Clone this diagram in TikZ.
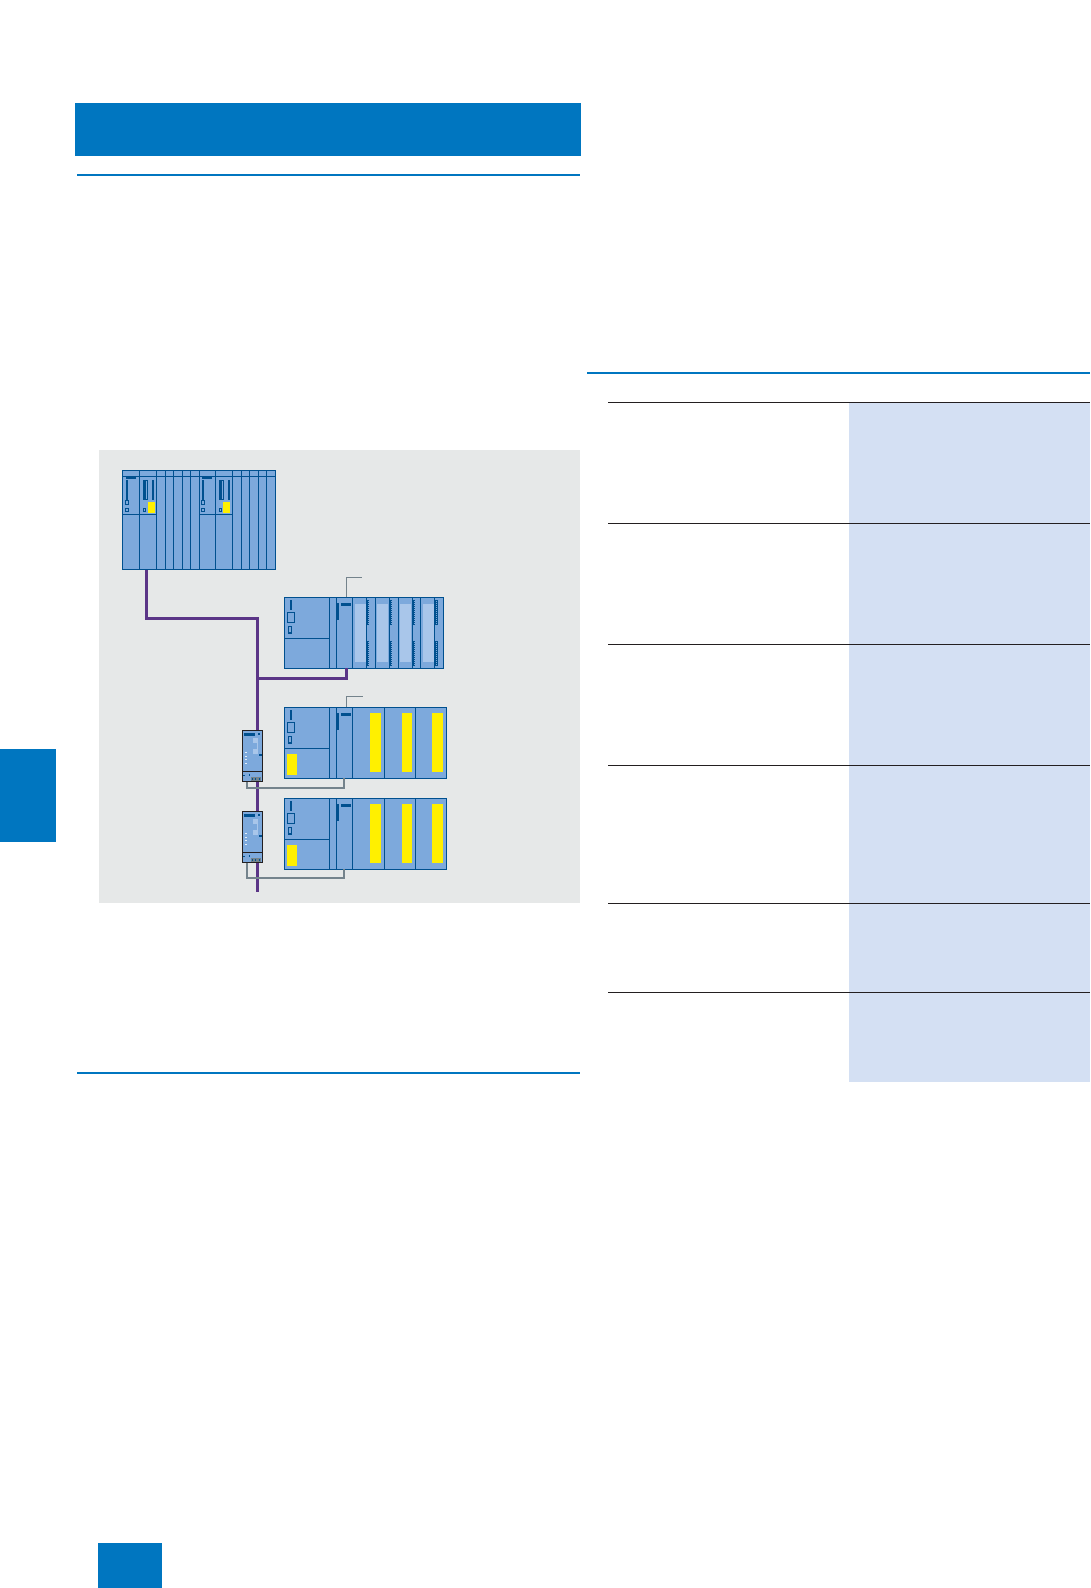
\documentclass[tikz,border=0pt]{standalone}
\definecolor{brandblue}{HTML}{0076C0}
\definecolor{modfill}{HTML}{7DA9DC}
\definecolor{modedge}{HTML}{00508F}
\definecolor{modlight}{HTML}{A9C6EA}
\definecolor{sigyellow}{HTML}{FFF000}
\definecolor{panelgray}{HTML}{E6E8E8}
\definecolor{tablefill}{HTML}{D4E0F3}
\definecolor{busviolet}{HTML}{5B3587}
\definecolor{inkline}{HTML}{231F20}
\definecolor{wiregray}{HTML}{74838C}
\tikzset{
  flat/.style={fill=#1,draw=none},
  bluerule/.style={draw=brandblue,line width=2pt},
  tablerule/.style={draw=inkline,line width=1pt},
  frame/.style={draw=modedge,fill=modfill,line width=1.3pt,rectangle,inner sep=0pt,outer sep=0pt},
  swframe/.style={draw=inkline,fill=modfill,line width=1.2pt,rectangle,inner sep=0pt,outer sep=0pt},
  divider/.style={draw=modedge,line width=1.2pt},
  hollow/.style={draw=modedge,line width=1.1pt,fill=none},
  dark/.style={fill=modedge,draw=none},
  yellowbar/.style={fill=sigyellow,draw=none},
  lightbar/.style={fill=modlight,draw=none},
  bus/.style={draw=busviolet,line width=3pt},
  wire/.style={draw=wiregray,line width=2pt},
  callout/.style={draw=wiregray,line width=1pt},
}
% CPU pair of the redundant rack, x offset given by scope
\newcommand{\cpupair}[1]{%
  \fill[dark] (126,476.7) rectangle (136,479);
  \fill[dark] (126,480) rectangle (128,500);
  \draw[hollow] (125.5,500.5) rectangle (128.5,504.5);
  \draw[hollow] (125.5,508.5) rectangle (128.5,511.5);
  \fill[dark] (143,480) rectangle (146.3,500);
  \draw[hollow] (143.5,480.5) rectangle (147.2,499.5);
  \fill[dark] (152,480) rectangle (154,500);
  \draw[hollow] (143.5,508.5) rectangle (145.8,511.5);
  \fill[yellowbar] (#1,502) rectangle (#1+7,513);
}
% Left part shared by the station modules
\newcommand{\stationleft}{%
  \fill[dark] (290,0) rectangle (292,10);
  \draw[hollow] (287.8,12.5) rectangle (294.5,22.5);
  \draw[hollow] (288.5,26.8) rectangle (291.5,33);
  \fill[dark] (336.6,3) rectangle (339,20);
  \fill[dark] (341,3) rectangle (351,6);
}
% Dotted connector strip
\newcommand{\dotstrip}[3]{%
  \fill[dark] (#1,#2) rectangle (#1+2.3,#3);
  \pgfmathsetmacro{\secondy}{#2+2}
  \foreach \yy in {#2,\secondy,...,#3}{\fill[modfill] (#1+0.9,\yy+0.7) rectangle (#1+1.5,\yy+1.2);}
}
% Interior of the network switch
\newcommand{\switchparts}{%
  \draw[inkline,line width=1.2pt] (242.3,771.3) -- (262.7,771.3);
  \fill[dark] (244,732.7) rectangle (255,736);
  \fill[dark] (258,733) rectangle (260,735);
  \fill[modlight] (253,738) rectangle (257.7,742.7);
  \fill[modlight] (253,749.3) rectangle (257.7,754);
  \draw[modlight,line width=.8pt] (257.3,740) -- (257.3,752);
  \foreach \yy in {752.3,756,759.7,763.3}{\fill[white!70!modlight] (244.7,\yy-.5) rectangle (247,\yy+.5);}
  \fill[dark] (259.3,754) rectangle (261.7,756);
  \fill[dark] (243,774.6) rectangle (244.8,776);
  \fill[dark] (248.6,774.4) rectangle (250.4,776);
  \fill[wiregray] (251.3,777.3) rectangle (260.7,780.7);
  \foreach \xx in {252.5,255.5,259}{\fill[modedge] (\xx-.4,778.3) rectangle (\xx+.4,779.5);}
}
\begin{document}
\begin{tikzpicture}[x=1pt,y=-1pt]
\useasboundingbox[fill=white] (0,0) rectangle (1090,1588);

% page furniture
\fill[flat=brandblue] (75,103) rectangle (581,156);
\draw[bluerule] (77,175) -- (580,175);
\draw[bluerule] (77,1073) -- (580,1073);
\draw[bluerule] (587,373) -- (1090,373);
\fill[flat=brandblue] (0,749) rectangle (56,842);
\fill[flat=brandblue] (98,1543) rectangle (162,1588);

% table
\fill[flat=tablefill] (849,402.5) rectangle (1090,1082);
\foreach \yy in {402.5,523.5,644.5,765,903.5,992.5}{\draw[tablerule] (608,\yy) -- (1090,\yy);}

% diagram panel
\fill[flat=panelgray] (99,450) rectangle (580,903);

% rack
\node[frame,minimum width=153.2pt,minimum height=99pt] (rack) at (199.1,520) {};
\foreach \xx in {139.3,156.3,165.3,173.3,182.3,190.3,199.3,215.3,232.3,241.3,249.3,258.3,266.3}{\draw[divider] (\xx,470.5) -- (\xx,569.5);}
\draw[divider] (122.5,476.3) -- (275.7,476.3);
\draw[divider] (122.5,514.3) -- (156.3,514.3);
\draw[divider] (199.3,514.3) -- (232.3,514.3);
\cpupair{148}
\begin{scope}[shift={(76,0)}]\cpupair{147}\end{scope}

% station 1
\node[frame,minimum width=159.4pt,minimum height=71pt] (st1) at (364,632.8) {};
\foreach \xx in {329.7,336.3,352.3,366.3,375.3,389.3,398.3,412.3,420.3,434.3}{\draw[divider] (\xx,597.3) -- (\xx,668.3);}
\draw[divider] (284.3,638.3) -- (329.7,638.3);
\begin{scope}[shift={(0,600)}]\stationleft\end{scope}
\foreach \xx in {355,377,400,423}{\fill[lightbar] (\xx,604) rectangle (\xx+10.5,662);}
\foreach \xx in {367,390,412.7,435.3}{\dotstrip{\xx}{600}{625}\dotstrip{\xx}{641}{666}}

% station 2
\node[frame,minimum width=162.4pt,minimum height=71pt] (st2) at (365.5,742.8) {};
% station 3
\node[frame,minimum width=162.4pt,minimum height=71pt] (st3) at (365.5,833.8) {};
\foreach \oy/\sy in {0/707.3,91/798.3}{
  \begin{scope}[shift={(0,\oy)}]
    \foreach \xx in {329.3,336.3,352.3,384.3,415.3}{\draw[divider] (\xx,707.3) -- (\xx,778.3);}
    \draw[divider] (284.3,748.3) -- (329.3,748.3);
    \begin{scope}[shift={(0,710)}]\stationleft\end{scope}
    \fill[yellowbar] (287,754) rectangle (297,775);
    \fill[yellowbar] (370,713) rectangle (381,772);
    \fill[yellowbar] (402,713) rectangle (412,772);
    \fill[yellowbar] (432,713) rectangle (443,772);
  \end{scope}
}

% connection points
\coordinate (rackport) at (146.5,569.5);
\coordinate (trunkend) at (257.5,891.7);
\coordinate (st1port) at (346.7,668.3);
\coordinate (st1call) at (346.3,597.3);
\coordinate (st1callend) at (361.7,577.7);
\coordinate (st2call) at (346.3,707.3);
\coordinate (st2callend) at (362.7,696.3);
\coordinate (st2port) at (344,778.3);
\coordinate (st3port) at (344,869.3);

% bus
\draw[bus] (rackport) |- (257.5,618.3) -- (trunkend);
\draw[bus] (257.5,678.3) -| (st1port);

% callouts
\draw[callout] (st1call) |- (st1callend);
\draw[callout] (st2call) |- (st2callend);

% switches
\node[swframe,minimum width=20.4pt,minimum height=51.4pt] (sw1) at (252.5,756) {};
\node[swframe,minimum width=20.4pt,minimum height=51.4pt] (sw2) at (252.5,837) {};
\switchparts
\begin{scope}[shift={(0,81)}]\switchparts\end{scope}

% switch wiring
\coordinate (sw1port) at (247,781.7);
\coordinate (sw2port) at (247,862.7);
\draw[wire] (sw1port) |- (344,787.7) -- (st2port);
\draw[wire] (sw2port) |- (344,877.7) -- (st3port);
\end{tikzpicture}
\end{document}
